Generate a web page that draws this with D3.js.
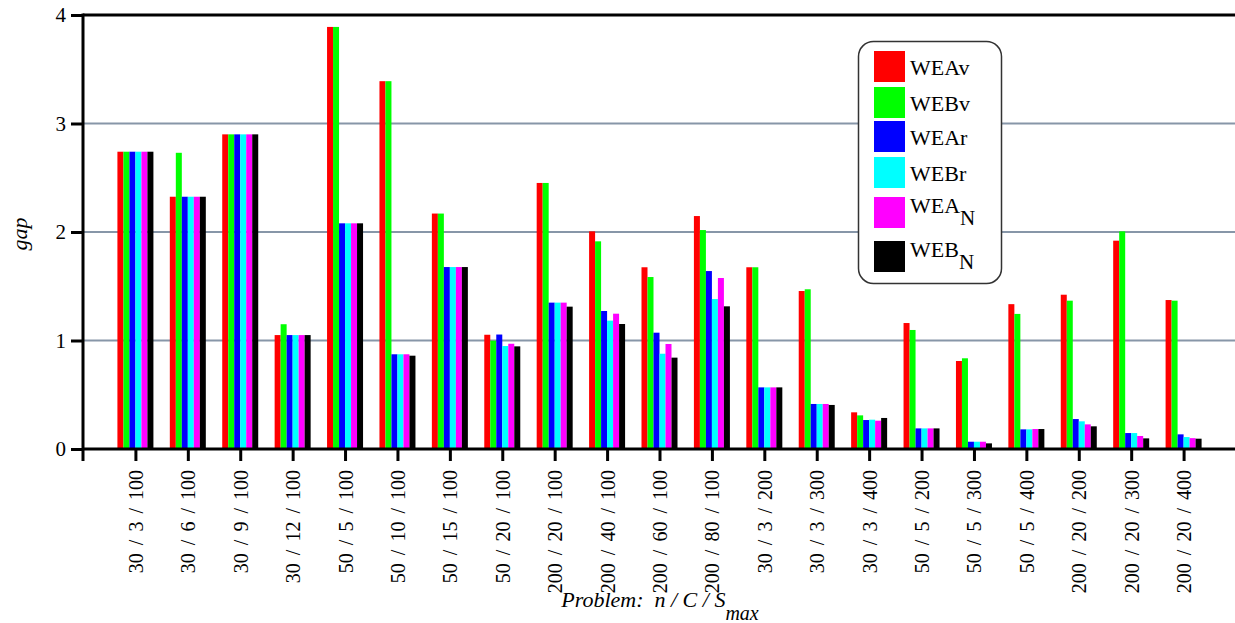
<!DOCTYPE html>
<html>
<head>
<meta charset="utf-8">
<script src="https://cdn.jsdelivr.net/npm/d3@7"></script>
<style>
  body { margin: 0; background: #fff; }
  svg text { font-family: "Liberation Serif", "Times New Roman", serif !important; fill: #000; }
</style>
</head>
<body>
<div id="chart"></div>
<script>
var problems = ["30 / 3 / 100", "30 / 6 / 100", "30 / 9 / 100", "30 / 12 / 100", "50 / 5 / 100",
	"50 / 10 / 100", "50 / 15 / 100", "50 / 20 / 100", "200 / 20 / 100", "200 / 40 / 100",
	"200 / 60 / 100", "200 / 80 / 100", "30 / 3 / 200", "30 / 3 / 300", "30 / 3 / 400",
	"50 / 5 / 200", "50 / 5 / 300", "50 / 5 / 400", "200 / 20 / 200", "200 / 20 / 300", "200 / 20 / 400"];

var seriesNames = ["WEAv", "WEBv", "WEAr", "WEBr", "WEA_N", "WEB_N"];
var seriesColors = ["#ff0000", "#00ff00", "#0000ff", "#00ffff", "#ff00ff", "#000000"];

var WEAv = [2.74, 2.325, 2.90, 1.05, 3.89, 3.39, 2.17, 1.053, 2.452, 2.006, 1.675, 2.147, 1.675, 1.456, 0.338, 1.161, 0.811, 1.335, 1.422, 1.92, 1.373];
var WEBv = [2.74, 2.73, 2.90, 1.15, 3.89, 3.39, 2.17, 0.998, 2.452, 1.914, 1.585, 2.018, 1.675, 1.472, 0.31, 1.097, 0.836, 1.245, 1.367, 2.006, 1.367];
var WEAr = [2.74, 2.325, 2.90, 1.05, 2.08, 0.873, 1.677, 1.055, 1.349, 1.272, 1.072, 1.64, 0.568, 0.415, 0.267, 0.19, 0.067, 0.181, 0.276, 0.147, 0.135];
var WEBr = [2.74, 2.325, 2.90, 1.05, 2.08, 0.873, 1.677, 0.949, 1.349, 1.183, 0.878, 1.382, 0.568, 0.415, 0.27, 0.19, 0.067, 0.181, 0.255, 0.147, 0.11];
var WEAN = [2.74, 2.325, 2.90, 1.05, 2.08, 0.873, 1.677, 0.97, 1.349, 1.247, 0.968, 1.576, 0.568, 0.415, 0.261, 0.19, 0.067, 0.184, 0.227, 0.12, 0.10];
var WEBN = [2.74, 2.325, 2.90, 1.05, 2.08, 0.86, 1.677, 0.946, 1.312, 1.152, 0.842, 1.315, 0.568, 0.406, 0.286, 0.19, 0.052, 0.184, 0.209, 0.098, 0.095];

var yTicks = [0, 1, 2, 3, 4];

var width = 1235,
	height = 623,
	margin = {left: 83, top: 15, bottom: 174},
	plotW = width - margin.left,
	plotH = height - margin.top - margin.bottom;

var serif = '"Liberation Serif", "Times New Roman", serif';

var allSeries = [WEAv, WEBv, WEAr, WEBr, WEAN, WEBN];

var svg = d3.select('#chart')
	.append('svg')
	.attr('width', width)
	.attr('height', height)
	.attr('font-family', serif);

var x = d3.scalePoint()
	.domain(problems)
	.range([0, plotW + 1])
	.padding(1);

var sub = d3.scaleBand()
	.domain(seriesNames)
	.range([-18, 18])
	.padding(0);

var y = d3.scaleLinear()
	.domain([0, 4])
	.range([plotH, 0]);

var g = svg.append('g')
	.attr('transform', 'translate(' + margin.left + ',' + margin.top + ')');

// grid lines
g.append('g')
	.selectAll('line')
	.data([1, 2, 3])
	.enter()
	.append('line')
	.attr('x1', 0)
	.attr('x2', plotW)
	.attr('y1', function(d) { return y(d); })
	.attr('y2', function(d) { return y(d); })
	.style('stroke', '#8796a8')
	.style('stroke-width', 2);

// bars
var groups = g.selectAll('g.grp')
	.data(problems)
	.enter()
	.append('g')
	.attr('class', 'grp')
	.attr('transform', function(d) { return 'translate(' + x(d) + ',0)'; });

groups.selectAll('rect')
	.data(function(d, i) {
		return seriesNames.map(function(s, j) { return {s: s, v: allSeries[j][i], c: seriesColors[j]}; });
	})
	.enter()
	.append('rect')
	.attr('x', function(d) { return sub(d.s); })
	.attr('width', sub.bandwidth())
	.attr('y', function(d) { return y(d.v); })
	.attr('height', function(d) { return plotH - y(d.v); })
	.style('fill', function(d) { return d.c; });

// top border
g.append('line')
	.attr('x1', 0).attr('x2', plotW)
	.attr('y1', 0).attr('y2', 0)
	.style('stroke', '#000')
	.style('stroke-width', 3);

// y axis
var yAxis = g.append('g')
	.call(d3.axisLeft(y).tickValues(yTicks).tickFormat(d3.format('d')).tickSize(12).tickSizeOuter(0).tickPadding(5));
yAxis.attr('font-family', serif);
yAxis.select('.domain').remove();
yAxis.selectAll('line').style('stroke', '#000').style('stroke-width', 3);
yAxis.selectAll('text').style('font-family', serif).style('font-size', '21px');
g.append('line')
	.attr('x1', 0).attr('x2', 0)
	.attr('y1', -1.5).attr('y2', plotH + 12)
	.style('stroke', '#000')
	.style('stroke-width', 3);

// x axis
var xAxis = g.append('g')
	.attr('transform', 'translate(0,' + plotH + ')')
	.call(d3.axisBottom(x).tickSize(12).tickSizeOuter(0));
xAxis.attr('font-family', serif);
xAxis.select('.domain').remove();
xAxis.selectAll('line').style('stroke', '#000').style('stroke-width', 3);
xAxis.selectAll('text')
	.attr('transform', 'rotate(-90)')
	.attr('x', -21)
	.attr('y', 0)
	.attr('dy', '0.35em')
	.style('text-anchor', 'end')
	.style('font-family', serif)
	.style('font-size', '20px')
	.style('white-space', 'pre')
	.style('word-spacing', '3px');
g.append('line')
	.attr('x1', 0).attr('x2', plotW)
	.attr('y1', plotH).attr('y2', plotH)
	.style('stroke', '#000')
	.style('stroke-width', 3);

// axis titles
svg.append('text')
	.attr('transform', 'translate(27,234) rotate(-90)')
	.style('text-anchor', 'middle')
	.style('font-style', 'italic')
	.style('font-size', '22px')
	.text('gap');

var xt = svg.append('text')
	.attr('x', 660)
	.attr('y', 607)
	.style('text-anchor', 'middle')
	.style('font-style', 'italic')
	.style('font-size', '22px')
	.style('white-space', 'pre');
xt.append('tspan').text('Problem:  n / C / S');
xt.append('tspan').attr('dy', 13).style('font-size', '20px').text('max');

// legend
var legend = svg.append('g');
legend.append('rect')
	.attr('x', 858.5).attr('y', 41.5)
	.attr('width', 143).attr('height', 242)
	.attr('rx', 15).attr('ry', 15)
	.style('fill', '#fff')
	.style('stroke', '#333')
	.style('stroke-width', 1.5);

var rowTop = [51, 87, 121, 157, 197, 241];
seriesNames.forEach(function(name, i) {
	var parts = name.split('_');
	legend.append('rect')
		.attr('x', 874).attr('y', rowTop[i])
		.attr('width', 31).attr('height', 31)
		.style('fill', seriesColors[i]);
	var t = legend.append('text')
		.attr('x', 910)
		.attr('y', rowTop[i] + (parts.length > 1 ? 16 : 24))
		.style('font-size', '22px');
	t.append('tspan').text(parts[0]);
	if (parts.length > 1) {
		t.append('tspan').attr('dy', 12).style('font-size', '21px').text(parts[1]);
	}
});
</script>
</body>
</html>
